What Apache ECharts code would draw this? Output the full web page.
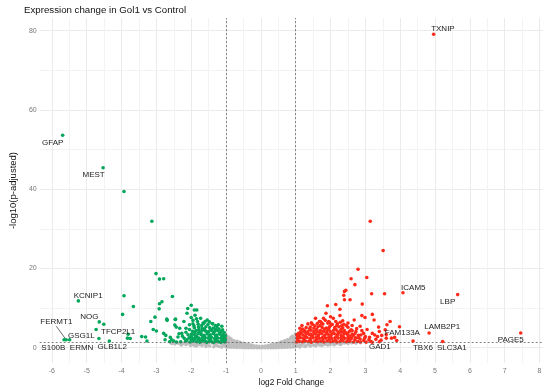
<!DOCTYPE html>
<html><head><meta charset="utf-8">
<script src="https://cdn.jsdelivr.net/npm/echarts@6/dist/echarts.min.js"></script>
<style>html,body{margin:0;padding:0;background:#fff}#c{width:550px;height:392px}</style>
</head><body><div id="c"></div>
<script>
// ---------- data ----------
const chartTitle = 'Expression change in Gol1 vs Control';
const xTicks = [-6,-5,-4,-3,-2,-1,0,1,2,3,4,5,6,7,8];
const xMinorTicks = [-5.5,-4.5,-3.5,-2.5,-1.5,-0.5,0.5,1.5,2.5,3.5,4.5,5.5,6.5,7.5];
const yTicks = [0,20,40,60,80];
const yMinorTicks = [10,30,50,70];
const lfcCutoff = 1;
const padjLine = 1.30103; // -log10(0.05)

// not significant (grey)
const notSigPoints = [
 [-2.56,1.08],[-2.47,0.96],[-2.39,1.2],[-2.31,0.88],[-2.23,1.12],[-2.15,0.79],[-2.07,1.17],[-1.99,0.86],[-1.92,0.62],[-1.84,1.06],
 [-1.76,0.74],[-1.69,0.52],[-1.61,1.0],[-1.54,0.7],[-1.47,0.44],[-1.4,1.18],[-1.33,0.93],[-1.27,0.58],[-1.2,0.3],[-1.14,1.05],
 [-1.08,0.78],[-1.03,0.42],[-1.85,0.45],[-1.58,0.32],[-1.35,0.25],[-1.12,0.15],[-1.5,1.25],[-1.7,1.25],[-1.9,1.25],[-2.1,1.25],
 [-1.25,1.22],[-1.06,1.2],[-2.02,0.55],[-2.28,0.7],
 [-0.99,0.18],[-0.98,0.88],[-0.97,1.62],[-0.99,2.31],[-0.98,2.95],
 [-0.92,0.14],[-0.91,0.79],[-0.93,1.48],[-0.9,2.16],[-0.92,2.62],
 [-0.84,0.11],[-0.85,0.71],[-0.83,1.32],[-0.84,1.88],[-0.86,2.24],
 [-0.76,0.08],[-0.77,0.63],[-0.75,1.18],[-0.77,1.76],
 [-0.68,0.06],[-0.69,0.58],[-0.67,1.12],[-0.68,1.58],
 [-0.6,0.04],[-0.61,0.52],[-0.59,1.02],[-0.6,1.38],
 [-0.52,0.02],[-0.53,0.48],[-0.51,1.08],
 [-0.44,0.01],[-0.45,0.46],[-0.43,0.93],
 [-0.36,0.0],[-0.37,0.41],[-0.35,0.79],
 [-0.28,0.0],[-0.29,0.36],[-0.27,0.68],
 [-0.2,0.0],[-0.21,0.49],[-0.12,0.0],[-0.13,0.41],[-0.04,0.0],[-0.05,0.34],
 [0.04,0.0],[0.05,0.36],[0.12,0.0],[0.13,0.42],[0.2,0.0],[0.21,0.51],
 [0.28,0.0],[0.27,0.37],[0.29,0.71],
 [0.36,0.0],[0.35,0.43],[0.37,0.86],
 [0.44,0.01],[0.43,0.5],[0.45,0.99],
 [0.52,0.03],[0.51,0.56],[0.53,1.14],
 [0.6,0.05],[0.59,0.61],[0.61,1.19],[0.6,1.46],
 [0.68,0.08],[0.67,0.66],[0.69,1.22],[0.68,1.74],
 [0.76,0.11],[0.75,0.72],[0.77,1.36],[0.76,1.98],
 [0.84,0.15],[0.83,0.81],[0.85,1.49],[0.84,2.18],[0.86,2.52],
 [0.92,0.2],[0.91,0.92],[0.93,1.62],[0.92,2.31],[0.9,2.88],
 [0.98,0.26],[0.99,1.01],[0.97,1.78],[0.98,2.6],[0.99,3.42],
 [1.04,0.38],[1.09,0.92],[1.16,0.58],[1.23,1.12],[1.3,0.48],[1.37,0.86],[1.45,1.21],[1.52,0.64],[1.6,1.02],[1.68,0.72],
 [1.75,1.16],[1.83,0.81],[1.91,1.06],[1.99,0.76],[2.07,1.22],[2.15,0.92],[2.23,1.11],[2.31,0.97],[2.4,1.21],[2.5,1.06],
 [2.61,1.22],[2.73,1.16],[2.86,1.25],[1.12,0.2],[1.26,0.3],[1.42,0.42],[1.58,0.5],[1.75,0.58],[1.92,0.66],[2.1,0.74],
 [2.28,0.82],[1.2,1.25],[1.35,1.25],[1.65,1.26],[1.88,1.25]
];

// down-regulated (green)
const downPoints = [
 [-3.93,39.4],[-3.13,31.9],[-3.01,18.7],[-2.91,17.3],[-2.79,17.4],[-3.93,13.1],[-2.54,12.9],[-3.66,10.4],[-2.84,11.6],[-2.91,11.1],
 [-2.92,9.8],[-3.97,8.4],[-3.04,7.7],[-3.16,6.6],[-2.69,6.9],[-2.46,7.1],[-3.09,4.6],[-3.42,2.8],[-3.31,2.7],[-3.27,1.7],
 [-3.81,3.4],[-3.83,2.4],[-3.75,2.3],[-3.0,4.2],[-2.79,3.6],[-2.75,2.0],[-2.5,1.7],[-2.38,2.7],[-2.43,5.2],[-2.27,3.6],
 [-4.51,5.9],[-2.7,7.2],[-2.45,7.2],[-2.73,3.1],[-2.56,2.0],[-2.47,5.7],[-2.33,4.9],[-2.15,4.9],[-2.21,6.6],
 [-2.0,10.7],[-2.1,9.9],[-1.91,9.5],[-1.84,9.5],[-2.12,8.7],[-1.89,8.2],[-1.73,7.4],[-1.54,7.0],[-1.4,6.1],[-1.64,6.1],
 [-2.0,7.6],[-1.95,6.9],[-1.82,6.6],[-2.05,5.8],[-1.7,5.6],
 [-2.3,1.48],[-2.16,1.62],[-2.03,1.45],[-1.93,1.7],[-1.84,1.52],[-1.75,1.4],[-1.66,1.66],[-1.57,1.5],[-1.48,1.58],[-1.39,1.44],
 [-1.3,1.68],[-1.21,1.5],[-1.12,1.6],[-1.04,1.42],
 [-2.2,2.35],[-2.06,2.52],[-1.96,2.3],[-1.87,2.6],[-1.78,2.42],[-1.69,2.28],[-1.6,2.55],[-1.51,2.38],[-1.42,2.62],[-1.33,2.3],
 [-1.24,2.5],[-1.15,2.36],[-1.06,2.58],
 [-2.09,3.25],[-1.99,3.42],[-1.9,3.18],[-1.81,3.5],[-1.72,3.3],[-1.63,3.15],[-1.54,3.45],[-1.45,3.28],[-1.36,3.52],[-1.27,3.2],
 [-1.18,3.4],[-1.09,3.22],
 [-1.96,4.15],[-1.86,4.32],[-1.77,4.08],[-1.68,4.4],[-1.59,4.2],[-1.5,4.05],[-1.41,4.35],[-1.32,4.12],[-1.23,4.3],[-1.14,4.05],
 [-1.91,5.05],[-1.79,5.22],[-1.69,4.98],[-1.58,5.3],[-1.47,5.1],[-1.36,4.95],[-1.26,5.2],
 [-1.95,6.05],[-1.8,5.9],[-1.66,6.2],[-1.52,5.85],[-1.38,6.0],
 [-2.12,1.98],[-1.98,1.92],[-1.8,2.0],[-1.62,1.95],[-1.44,2.02],[-1.26,1.9],[-1.08,1.98],
 [-2.0,2.88],[-1.84,2.8],[-1.66,2.9],[-1.48,2.82],[-1.3,2.95],[-1.12,2.84],
 [-1.9,3.8],[-1.72,3.72],[-1.54,3.85],[-1.36,3.78],[-1.18,3.7],
 [-1.02,2.1],[-1.02,3.0],[-1.05,3.8],[-1.1,4.5],[-1.2,4.7],[-1.3,4.6],[-1.45,4.7],[-1.62,4.7],[-1.78,4.6],[-1.03,1.7],
 [-1.15,1.35],[-1.35,1.35],[-1.55,1.35],[-1.72,1.8],[-1.9,2.2],[-2.0,2.1],[-2.25,2.9],[-2.15,3.9],[-2.05,4.6],[-1.85,7.3],
 [-1.6,6.6],[-1.48,6.5],[-1.3,5.6],[-2.35,3.5],[-2.6,2.6],[-2.42,1.45],[-2.62,1.5],[-1.12,5.4],[-1.22,5.8],[-1.92,5.5]
];

// up-regulated (red)
const upPoints = [
 [3.14,31.9],[3.51,24.5],[2.79,19.8],[3.04,17.7],[2.59,17.4],[2.70,15.9],[2.44,14.5],[2.40,14.2],[2.38,13.2],[3.18,13.6],
 [3.55,13.6],[2.40,12.1],[2.56,12.1],[2.91,11.0],[2.15,10.9],[1.91,10.6],[2.27,9.7],[1.87,8.7],[3.20,8.4],[3.71,6.6],
 [3.25,7.0],[2.0,7.8],[2.27,8.1],[2.08,7.4],[1.57,7.4],[1.80,7.4],[1.71,6.6],[2.9,8.1],[2.99,7.6],[2.68,7.0],
 [3.57,4.5],[3.40,4.1],[3.27,3.2],[3.2,3.6],[3.47,3.1],[3.75,2.4],[3.84,2.6],[3.0,2.8],[3.1,2.0],[2.87,3.2],
 [2.73,4.1],[2.59,4.5],[3.3,2.1],[2.95,1.8],[3.05,4.6],[2.85,5.4],[2.5,6.2],[2.35,6.8],[1.45,6.3],
 [1.02,1.45],[1.1,1.6],[1.19,1.5],[1.28,1.7],[1.37,1.55],[1.45,1.4],[1.55,1.65],[1.63,1.5],[1.72,1.6],[1.81,1.45],
 [1.9,1.7],[2.0,1.5],[2.08,1.6],[2.18,1.45],[2.27,1.55],[2.36,1.7],[2.46,1.5],[2.55,1.6],[2.66,1.45],[2.78,1.55],
 [1.06,1.98],[1.24,2.02],[1.42,1.92],[1.6,2.05],[1.78,1.95],[1.96,2.0],[2.14,1.9],[2.32,2.05],[2.5,1.95],[2.7,2.0],
 [1.05,2.35],[1.14,2.52],[1.23,2.4],[1.32,2.6],[1.41,2.3],[1.5,2.48],[1.59,2.62],[1.68,2.35],[1.77,2.55],[1.86,2.4],
 [1.95,2.6],[2.04,2.32],[2.13,2.5],[2.22,2.42],[2.31,2.6],[2.41,2.35],[2.5,2.55],[2.6,2.4],[2.72,2.5],
 [1.1,2.9],[1.28,2.82],[1.46,2.95],[1.64,2.85],[1.82,2.92],[2.0,2.8],[2.18,2.95],[2.36,2.84],[2.55,2.9],
 [1.03,3.25],[1.12,3.42],[1.21,3.2],[1.3,3.5],[1.39,3.3],[1.48,3.15],[1.57,3.45],[1.66,3.28],[1.75,3.52],[1.84,3.2],
 [1.93,3.4],[2.02,3.25],[2.11,3.5],[2.2,3.3],[2.3,3.2],[2.39,3.45],[2.49,3.3],[2.62,3.35],
 [1.16,3.78],[1.34,3.72],[1.52,3.85],[1.7,3.75],[1.88,3.82],[2.06,3.7],[2.24,3.85],[2.44,3.75],
 [1.15,4.15],[1.25,4.3],[1.35,4.1],[1.44,4.4],[1.53,4.2],[1.62,4.05],[1.71,4.35],[1.8,4.15],[1.9,4.3],[1.99,4.1],
 [2.09,4.4],[2.19,4.2],[2.29,4.05],[2.4,4.3],[2.55,4.15],
 [1.3,5.05],[1.42,5.2],[1.52,4.95],[1.64,5.3],[1.76,5.1],[1.88,4.95],[1.97,5.25],[2.12,5.05],[2.24,5.3],[2.35,5.0],[2.5,5.15],
 [1.48,5.9],[1.62,6.1],[1.78,5.95],[1.92,6.2],[2.05,5.85],[2.2,6.05],[2.38,5.9],
 [1.05,3.0],[1.08,3.6],[1.2,4.7],[1.6,4.65],[1.95,4.7],[2.3,4.6],[1.7,5.6],[2.0,5.6],[2.15,6.6],[1.85,6.9],
 [2.5,3.7],[2.65,3.0],[2.8,2.5],
 [1.18,5.6],[1.35,6.0],[1.55,5.5],[1.68,6.6],[1.95,6.6],[2.28,6.4],[2.45,5.6],[2.62,5.6],[2.75,4.8],[2.9,4.3],
 [2.95,3.6],[3.12,2.6],[3.35,2.8],[3.45,1.9],[3.6,3.3],[2.85,2.2],[2.98,2.4],[3.15,1.6],[3.4,1.5],[3.9,1.8],
 [1.4,4.75],[1.82,4.7],[2.15,4.7],[2.62,4.3],[2.7,3.5],[2.8,3.1],[1.12,4.9],[1.26,3.95],[1.43,3.45],[2.35,3.95],
 [2.58,2.2],[2.86,1.45],[3.02,1.4],[3.2,1.35],[2.18,5.6],[2.32,5.5],[1.98,6.3],[1.74,6.3],[3.38,5.2],[3.62,5.8]
];

// labelled genes
const labelGenes = ['GFAP','MEST','TXNIP','KCNIP1','NOG','TFCP2L1','FERMT1','GSG1L','S100B','ERMN','GLB1L2',
                    'ICAM5','LBP','LAMB2P1','PAGE5','FAM133A','GAD1','TBX6','SLC3A1'];
const labelLFC  = [-5.69,-4.53,4.96,-5.24,-4.64,-4.73,-5.59,-5.49,-5.65,-4.65,-4.35,
                    4.08,5.65,4.83,7.46,3.98,3.60,4.37,5.22];
const labelLogP = [53.6,45.4,79.1,11.8,6.5,4.6,2.0,2.0,2.0,2.3,1.7,
                    13.85,13.4,3.7,3.7,5.3,2.4,1.7,1.55];

// ---------- styling (label placement offsets in px) ----------
const labelOffset = {
  GFAP:[-10,8], MEST:[-9.5,7.3], TXNIP:[9.3,-5.3], KCNIP1:[9.8,-5.6], NOG:[-10,-5.4], TFCP2L1:[22,2],
  FERMT1:[-9.8,-17.5], GSG1L:[11.7,-4.2], S100B:[-10.7,7.8], ERMN:[-17.3,9], GLB1L2:[2.8,6],
  ICAM5:[10.3,-4.9], LBP:[-10,7.2], LAMB2P1:[13.1,-5.8], PAGE5:[-10,6.9], FAM133A:[2.9,5.9],
  GAD1:[-6.4,8.8], TBX6:[9.9,6.6], SLC3A1:[9.2,6]
};
const GREEN = '#00A65A', RED = '#FF2A1A', GREY = '#BEBEBE';
const FONT = '"Liberation Sans", Arial, sans-serif';
const PT = 3.6;

const labelData = labelGenes.map((g, i) => ({
  name: g,
  value: [labelLFC[i], labelLogP[i]],
  itemStyle: { color: labelLFC[i] < 0 ? GREEN : RED, opacity: 1 },
  labelLine: { show: g === 'FERMT1', lineStyle: { color: '#444', width: 0.8 } }
}));

const xMin = -6.35, xMax = 8.1, yMin = -3.89, yMax = 83.19;
const chart = echarts.init(document.getElementById('c'), null, { renderer: 'canvas' });
chart.setOption({
  animation: false,
  backgroundColor: '#fff',
  title: { text: chartTitle, left: 24, top: 5, padding: 0,
           textStyle: { fontFamily: FONT, fontSize: 9.7, fontWeight: 'normal', color: '#111' } },
  grid: { left: 24, right: 7, top: 18, bottom: 27 },
  xAxis: [
    { type: 'value', min: xMin, max: xMax,
      name: 'log2 Fold Change', nameLocation: 'middle', nameGap: 13,
      nameTextStyle: { fontFamily: FONT, fontSize: 8.3, color: '#111' },
      axisLine: { show: false },
      axisTick: { show: false, customValues: xTicks },
      axisLabel: { customValues: xTicks, fontFamily: FONT, fontSize: 7, color: '#777', margin: 4 },
      splitLine: { show: true, lineStyle: { color: '#EBEBEB', width: 1 } } },
    { type: 'value', min: xMin, max: xMax, position: 'bottom',
      axisLine: { show: false }, axisLabel: { show: false },
      axisTick: { show: false, customValues: xMinorTicks },
      splitLine: { show: true, lineStyle: { color: '#F3F3F3', width: 1 } } }
  ],
  yAxis: [
    { type: 'value', min: yMin, max: yMax,
      name: '-log10(p-adjusted)', nameLocation: 'middle', nameGap: 13, nameRotate: 90,
      nameTextStyle: { fontFamily: FONT, fontSize: 9.5, color: '#111' },
      axisLine: { show: false },
      axisTick: { show: false, customValues: yTicks },
      axisLabel: { customValues: yTicks, fontFamily: FONT, fontSize: 7, color: '#777', margin: 3 },
      splitLine: { show: true, lineStyle: { color: '#EBEBEB', width: 1 } } },
    { type: 'value', min: yMin, max: yMax, position: 'left',
      axisLine: { show: false }, axisLabel: { show: false },
      axisTick: { show: false, customValues: yMinorTicks },
      splitLine: { show: true, lineStyle: { color: '#F3F3F3', width: 1 } } }
  ],
  series: [
    { type: 'scatter', name: 'NS', data: notSigPoints, symbolSize: PT,
      itemStyle: { color: GREY, opacity: 1 }, silent: true, z: 2 },
    { type: 'scatter', name: 'Down', data: downPoints, symbolSize: PT,
      itemStyle: { color: GREEN, opacity: 1 }, silent: true, z: 3 },
    { type: 'scatter', name: 'Up', data: upPoints, symbolSize: PT,
      itemStyle: { color: RED, opacity: 1 }, silent: true, z: 3 },
    { type: 'scatter', name: 'thresholds', data: [], z: 4, silent: true,
      markLine: { silent: true, symbol: ['none', 'none'], label: { show: false },
        lineStyle: { color: '#666', type: [2, 2], width: 0.8 },
        data: [ { xAxis: -lfcCutoff }, { xAxis: lfcCutoff }, { yAxis: padjLine } ] } },
    { type: 'scatter', name: 'Labelled', data: labelData, symbolSize: PT, z: 5, silent: true,
      label: { show: true, position: 'inside', formatter: '{b}', fontFamily: FONT, fontSize: 8, color: '#222' },
      labelLayout: (p) => {
        const o = labelOffset[labelGenes[p.dataIndex]];
        return { dx: o[0], dy: o[1] };
      } }
  ]
});
</script></body></html>
